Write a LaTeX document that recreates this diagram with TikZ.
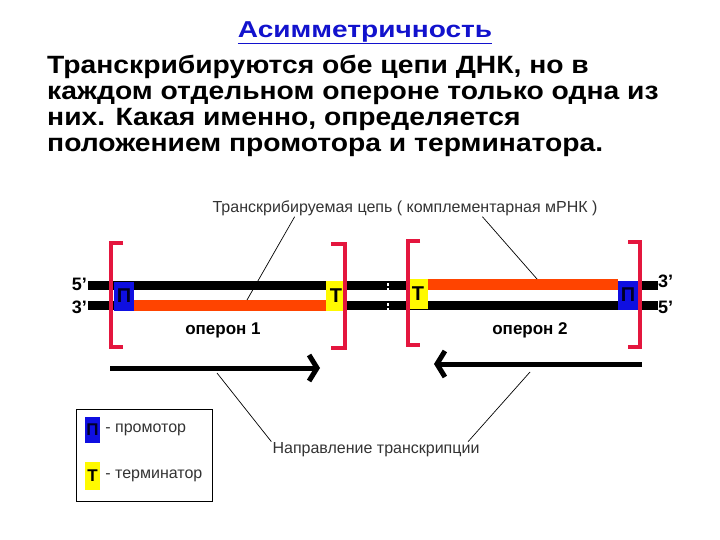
\documentclass[tikz,border=0pt]{standalone}
\usepackage{fontspec}
\setmainfont{Liberation Sans}
\newfontfamily\widesans[FakeStretch=1.13]{Liberation Sans}
\newfontfamily\titlesans[FakeStretch=1.22]{Liberation Sans}
\usetikzlibrary{arrows.meta,calc,positioning}

\definecolor{brackred}{RGB}{228,22,62}
\definecolor{rnaorange}{RGB}{255,68,0}
\definecolor{promblue}{RGB}{15,15,225}
\definecolor{termyellow}{RGB}{255,250,0}
\definecolor{titleblue}{RGB}{18,18,205}

\tikzset{
  strand/.style={line width=9pt},
  mrna/.style={line width=10.5pt, rnaorange},
  bracket/.style={line width=4pt, brackred},
  promo/.style={fill=promblue, text=black!85!blue, inner sep=0pt, minimum width=20pt, minimum height=29pt, font=\bfseries\fontsize{20}{20}\selectfont},
  termo/.style={fill=termyellow, text=black, inner sep=0pt, minimum width=20pt, minimum height=30pt, font=\bfseries\fontsize{20}{20}\selectfont},
  endlbl/.style={font=\bfseries\fontsize{18}{18}\selectfont, inner sep=0pt},
  oplbl/.style={font=\bfseries\fontsize{17}{17}\selectfont},
  thinlbl/.style={font=\fontsize{16}{16}\selectfont, text=black!80, inner sep=1pt},
  lead/.style={line width=0.7pt},
  dirarrow/.style={line width=5pt, -{Straight Barb[length=8pt,width=26pt,line width=5pt]}}
}

\begin{document}
\begin{tikzpicture}[x=1pt,y=-1pt]
  \useasboundingbox (0,0) rectangle (720,540);
  % heading and text
  \node[font=\titlesans\bfseries\fontsize{23}{23}\selectfont, text=titleblue] (ttl) at (365,33) {\underline{Асимметричность}};
  \node[anchor=north west, align=left, inner sep=0pt, font=\widesans\bfseries\fontsize{25}{26}\selectfont] (txt) at (47,55)
    {Транскрибируются обе цепи ДНК, но в\\каждом отдельном опероне только одна из\\них. Какая именно, определяется\\положением промотора и терминатора.};

  % strand ends
  \node[endlbl, anchor=east] (l5) at (87,284) {5'};
  \node[endlbl, anchor=east] (l3) at (87,307) {3'};
  \node[endlbl, anchor=west] (r3) at (658,281) {3'};
  \node[endlbl, anchor=west] (r5) at (658,307) {5'};

  % the two strands
  \draw[strand] (88,285) -- (658,285);
  \draw[strand] (88,305.5) -- (658,305.5);
  % transcribed parts
  \draw[mrna] (134,305.5) -- (326,305.5);
  \draw[mrna] (427,284.5) -- (618,284.5);

  % promotors and terminators
  \node[promo] (p1) at (124,296) {П};
  \node[termo] (t1) at (336,296) {Т};
  \node[termo] (t2) at (418,294) {Т};
  \node[promo] (p2) at (628,295) {П};

  % brackets
  \foreach \xa/\xb/\ya/\yb in {123/111/243/347, 331/345/244/348, 420/408/241/345, 628/640/242/347}
    {
      \draw[bracket] (\xa,\ya) -| (\xb,\yb) -- (\xa,\yb);
    }
  % break
  \draw[white, line width=1.2pt, dash pattern=on 3pt off 2pt] (388,278) -- (388,312);

  \node[oplbl] (op1) at (223,330) {оперон 1};
  \node[oplbl] (op2) at (530,330) {оперон 2};

  % transcribed strand label
  \node[thinlbl] (tcl) at (405,208) {Транскрибируемая цепь ( комплементарная мРНК )};
  \coordinate (m1) at (247,300);
  \coordinate (m2) at (537,279);
  \draw[lead] ($(tcl.south west)!0.215!(tcl.south east)$) -- (m1);
  \draw[lead] ($(tcl.south west)!0.70!(tcl.south east)$) -- (m2);

  % direction of transcription
  \coordinate (a1s) at (110,368);
  \coordinate (a1e) at (320,368);
  \coordinate (a2s) at (642,364);
  \coordinate (a2e) at (434,364);
  \draw[dirarrow] (a1s) -- (a1e);
  \draw[dirarrow] (a2s) -- (a2e);
  \node[thinlbl] (dir) at (376,450) {Направление транскрипции};
  \coordinate (d1) at (217,373);
  \coordinate (d2) at (530,372);
  \draw[lead] (d1) -- (dir.north west);
  \draw[lead] (d2) -- ($(dir.north west)!0.94!(dir.north east)$);

  % legend
  \node[draw, line width=1pt, minimum width=136pt, minimum height=92pt, anchor=north west] (leg) at (76,409) {};
  \node[promo, minimum width=15pt, minimum height=26pt, font=\bfseries\fontsize{17}{17}\selectfont] (lp) at (92.5,430) {П};
  \node[thinlbl, anchor=west, right=4pt of lp] (lpt) {- промотор};
  \node[termo, minimum width=15pt, minimum height=28pt, font=\bfseries\fontsize{17}{17}\selectfont] (lt) at (92.5,476) {Т};
  \node[thinlbl, anchor=west, right=4pt of lt] (ltt) {- терминатор};
\end{tikzpicture}
\end{document}
